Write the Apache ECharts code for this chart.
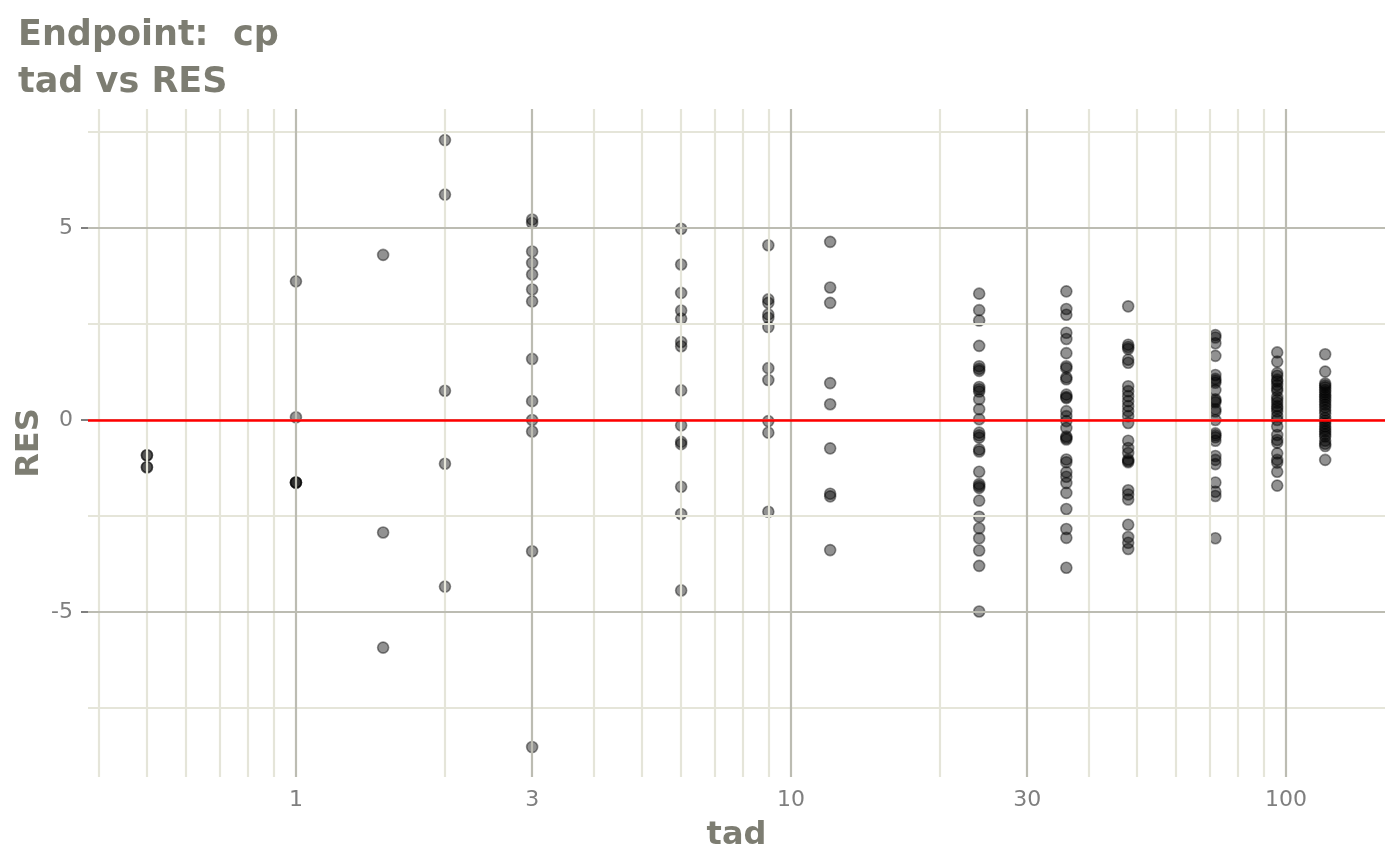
<!DOCTYPE html>
<html>
<head>
<meta charset="utf-8">
<script src="https://cdn.jsdelivr.net/npm/echarts@6/dist/echarts.min.js"></script>
<style>html,body{margin:0;padding:0;background:#fff}#c{width:1400px;height:865px}</style>
</head>
<body>
<div id="c"></div>
<script>
// ---- data ----
const tadTimes = [0.5, 1, 1.5, 2, 3, 6, 9, 12, 24, 36, 48, 72, 96, 120];
const res_t0_5 = [-0.92, -0.92, -1.23, -1.23];
const res_t1   = [3.61, 0.07, -1.63, -1.63, -1.63];
const res_t1_5 = [4.30, -2.93, -5.93];
const res_t2   = [7.29, 5.87, 0.76, -1.14, -4.34];
const res_t3   = [5.22, 5.13, 4.39, 4.09, 3.79, 3.40, 3.09, 1.59, 0.49, 0.00, -0.30, -3.42, -8.52];
const res_t6   = [4.98, 4.05, 3.31, 2.85, 2.64, 2.03, 1.92, 0.77, -0.14, -0.57, -0.63, -1.74, -2.45, -4.44];
const res_t9   = [4.55, 3.14, 3.05, 2.75, 2.66, 2.42, 1.35, 1.04, -0.03, -0.33, -2.39];
const res_t12  = [4.64, 3.45, 3.05, 0.96, 0.41, -0.74, -1.92, -1.99, -3.39];
const res_t24  = [3.29, 2.86, 2.59, 1.93, 1.40, 1.33, 1.28, 0.86, 0.80, 0.74, 0.54, 0.28, 0.02,
                  -0.33, -0.40, -0.46, -0.77, -0.82, -1.35, -1.67, -1.72, -1.77, -2.10, -2.52,
                  -2.82, -3.08, -3.40, -3.80, -4.99];
const res_t36  = [3.35, 2.89, 2.74, 2.27, 2.11, 1.74, 1.40, 1.35, 1.11, 1.06, 0.66, 0.60, 0.57,
                  0.23, 0.10, -0.03, -0.21, -0.43, -0.47, -0.51, -1.03, -1.10, -1.36, -1.48,
                  -1.64, -1.90, -2.32, -2.84, -3.07, -3.85];
const res_t48  = [2.96, 1.96, 1.90, 1.85, 1.57, 1.49, 0.88, 0.75, 0.62, 0.49, 0.36, 0.23, 0.10,
                  -0.08, -0.54, -0.73, -0.86, -1.03, -1.07, -1.10, -1.83, -1.94, -2.07, -2.73,
                  -3.05, -3.20, -3.36];
const res_t72  = [2.21, 2.15, 2.00, 1.67, 1.17, 1.07, 1.02, 0.97, 0.78, 0.54, 0.50, 0.46, 0.28,
                  0.22, 0.00, -0.35, -0.40, -0.45, -0.54, -0.94, -1.04, -1.15, -1.63, -1.87,
                  -1.98, -3.08];
const res_t96  = [1.76, 1.52, 1.22, 1.15, 1.05, 1.00, 0.91, 0.82, 0.76, 0.60, 0.52, 0.45, 0.36,
                  0.30, 0.22, 0.10, 0.00, -0.17, -0.39, -0.52, -0.59, -0.87, -1.04, -1.11,
                  -1.35, -1.71];
const res_t120 = [1.71, 1.26, 0.95, 0.90, 0.85, 0.78, 0.72, 0.66, 0.60, 0.54, 0.47, 0.40, 0.33,
                  0.25, 0.17, 0.05, -0.02, -0.09, -0.17, -0.24, -0.30, -0.37, -0.43, -0.54,
                  -0.62, -0.68, -1.04];
const residualsByTime = [res_t0_5, res_t1, res_t1_5, res_t2, res_t3, res_t6, res_t9, res_t12,
                         res_t24, res_t36, res_t48, res_t72, res_t96, res_t120];

const xTickValues = [1, 3, 10, 30, 100];
const yTickValues = [-5, 0, 5];
const xMinorGrid = [0.4, 0.5, 0.6, 0.7, 0.8, 0.9, 2, 4, 5, 6, 7, 8, 9, 20, 40, 50, 60, 70, 80, 90];
const yMinorGrid = [-7.5, -2.5, 2.5, 7.5];
const refLineValue = 0;
const xRange = [0.3801, 158.5];
const yRange = [-9.30, 8.10];

// ---- build ----
const points = [];
tadTimes.forEach((t, i) => residualsByTime[i].forEach(r => points.push([t, r])));

const FONT = 'DejaVu Sans';
const MAJOR = '#bcbcb2';
const MINOR = '#e5e5d9';
const gridLines = [];
xMinorGrid.forEach(v => gridLines.push({xAxis: v, lineStyle: {color: MINOR, width: 2.2, type: 'solid'}}));
yMinorGrid.forEach(v => gridLines.push({yAxis: v, lineStyle: {color: MINOR, width: 2.2, type: 'solid'}}));
xTickValues.forEach(v => gridLines.push({xAxis: v, lineStyle: {color: MAJOR, width: 2.2, type: 'solid'}}));
yTickValues.forEach(v => gridLines.push({yAxis: v, lineStyle: {color: MAJOR, width: 2.2, type: 'solid'}}));

const chart = echarts.init(document.getElementById('c'));
chart.setOption({
  animation: false,
  backgroundColor: '#ffffff',
  title: {
    text: 'Endpoint:  cp\ntad vs RES',
    left: 13, top: 7,
    textStyle: {fontFamily: FONT, fontSize: 35, fontWeight: 'bold', color: '#7d7d72', lineHeight: 47}
  },
  grid: {left: 88, right: 15, top: 109, bottom: 88},
  xAxis: {
    type: 'log', logBase: 10, min: xRange[0], max: xRange[1],
    axisLine: {show: false},
    axisTick: {show: true, length: 7, customValues: xTickValues, lineStyle: {color: '#7f7f7f', width: 2}},
    axisLabel: {customValues: xTickValues, color: '#7f7f7f', fontSize: 22, margin: 12, fontFamily: FONT,
                formatter: v => String(v)},
    splitLine: {show: false},
    minorSplitLine: {show: false},
    name: 'tad', nameLocation: 'middle', nameGap: 43,
    nameTextStyle: {fontFamily: FONT, fontSize: 32, fontWeight: 'bold', color: '#7d7d72'}
  },
  yAxis: {
    type: 'value', min: yRange[0], max: yRange[1],
    axisLine: {show: false},
    axisTick: {show: true, length: 7, customValues: yTickValues, lineStyle: {color: '#7f7f7f', width: 2}},
    axisLabel: {customValues: yTickValues, color: '#7f7f7f', fontSize: 22, margin: 15, fontFamily: FONT},
    splitLine: {show: false},
    name: 'RES', nameLocation: 'middle', nameGap: 42, nameMoveOverlap: false,
    nameTextStyle: {fontFamily: FONT, fontSize: 32, fontWeight: 'bold', color: '#7d7d72'}
  },
  series: [
    {
      type: 'scatter', data: [], z: 1, silent: true,
      markLine: {silent: true, symbol: ['none', 'none'], label: {show: false},
                 emphasis: {disabled: true}, data: gridLines}
    },
    {
      type: 'scatter', data: points, z: 3,
      symbol: 'circle', symbolSize: 11,
      itemStyle: {color: 'rgba(0,0,0,0.54)', borderColor: 'rgba(0,0,0,0.54)', borderWidth: 1.6},
      emphasis: {disabled: true}
    },
    {
      type: 'scatter', data: [], z: 5, silent: true,
      markLine: {silent: true, symbol: ['none', 'none'], label: {show: false}, emphasis: {disabled: true},
                 data: [{yAxis: refLineValue, lineStyle: {color: '#ff0000', width: 2.5, type: 'solid'}}]}
    }
  ]
});
</script>
</body>
</html>
